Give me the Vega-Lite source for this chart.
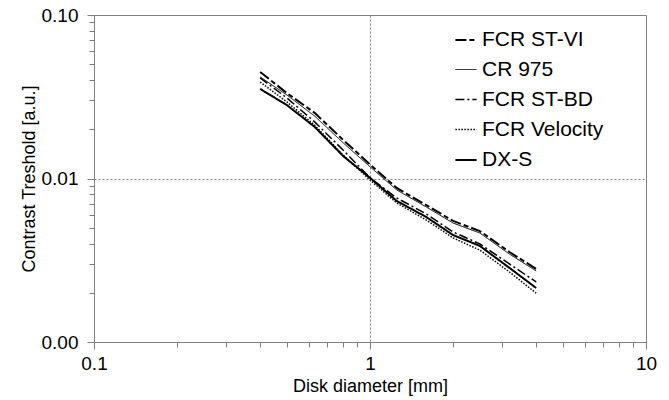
{
  "$schema": "https://vega.github.io/schema/vega-lite/v6.json",
  "width": 552,
  "height": 327,
  "autosize": "none",
  "padding": {"left": 94, "top": 15, "right": 23, "bottom": 58},
  "background": "white",
  "config": {
    "font": "Liberation Sans",
    "view": {"stroke": "#808080", "strokeWidth": 1}
  },
  "data": {
    "values": [
      {"d": 0.4, "s": "FCR ST-VI", "v": 0.0448},
      {"d": 0.5, "s": "FCR ST-VI", "v": 0.0333},
      {"d": 0.63, "s": "FCR ST-VI", "v": 0.0252},
      {"d": 0.8, "s": "FCR ST-VI", "v": 0.0172},
      {"d": 1.0, "s": "FCR ST-VI", "v": 0.0122},
      {"d": 1.25, "s": "FCR ST-VI", "v": 0.00875},
      {"d": 1.6, "s": "FCR ST-VI", "v": 0.00688},
      {"d": 2.0, "s": "FCR ST-VI", "v": 0.0055},
      {"d": 2.5, "s": "FCR ST-VI", "v": 0.00477},
      {"d": 3.2, "s": "FCR ST-VI", "v": 0.00355},
      {"d": 4.0, "s": "FCR ST-VI", "v": 0.0028},
      {"d": 0.4, "s": "CR 975", "v": 0.0418},
      {"d": 0.5, "s": "CR 975", "v": 0.0324},
      {"d": 0.63, "s": "CR 975", "v": 0.0241},
      {"d": 0.8, "s": "CR 975", "v": 0.0165},
      {"d": 1.0, "s": "CR 975", "v": 0.0118},
      {"d": 1.25, "s": "CR 975", "v": 0.00851},
      {"d": 1.6, "s": "CR 975", "v": 0.00669},
      {"d": 2.0, "s": "CR 975", "v": 0.00534},
      {"d": 2.5, "s": "CR 975", "v": 0.00464},
      {"d": 3.2, "s": "CR 975", "v": 0.00345},
      {"d": 4.0, "s": "CR 975", "v": 0.00272},
      {"d": 0.4, "s": "FCR ST-BD", "v": 0.0412},
      {"d": 0.5, "s": "FCR ST-BD", "v": 0.0311},
      {"d": 0.63, "s": "FCR ST-BD", "v": 0.0222},
      {"d": 0.8, "s": "FCR ST-BD", "v": 0.0149},
      {"d": 1.0, "s": "FCR ST-BD", "v": 0.0101},
      {"d": 1.25, "s": "FCR ST-BD", "v": 0.0076},
      {"d": 1.6, "s": "FCR ST-BD", "v": 0.00607},
      {"d": 2.0, "s": "FCR ST-BD", "v": 0.00471},
      {"d": 2.5, "s": "FCR ST-BD", "v": 0.00398},
      {"d": 3.2, "s": "FCR ST-BD", "v": 0.003},
      {"d": 4.0, "s": "FCR ST-BD", "v": 0.00233},
      {"d": 0.4, "s": "FCR Velocity", "v": 0.0389},
      {"d": 0.5, "s": "FCR Velocity", "v": 0.0294},
      {"d": 0.63, "s": "FCR Velocity", "v": 0.0212},
      {"d": 0.8, "s": "FCR Velocity", "v": 0.0139},
      {"d": 1.0, "s": "FCR Velocity", "v": 0.0098},
      {"d": 1.25, "s": "FCR Velocity", "v": 0.00708},
      {"d": 1.6, "s": "FCR Velocity", "v": 0.00557},
      {"d": 2.0, "s": "FCR Velocity", "v": 0.00433},
      {"d": 2.5, "s": "FCR Velocity", "v": 0.00365},
      {"d": 3.2, "s": "FCR Velocity", "v": 0.00268},
      {"d": 4.0, "s": "FCR Velocity", "v": 0.00199},
      {"d": 0.4, "s": "DX-S", "v": 0.0353},
      {"d": 0.5, "s": "DX-S", "v": 0.0281},
      {"d": 0.63, "s": "DX-S", "v": 0.0207},
      {"d": 0.8, "s": "DX-S", "v": 0.0137},
      {"d": 1.0, "s": "DX-S", "v": 0.0101},
      {"d": 1.25, "s": "DX-S", "v": 0.00729},
      {"d": 1.6, "s": "DX-S", "v": 0.00581},
      {"d": 2.0, "s": "DX-S", "v": 0.00451},
      {"d": 2.5, "s": "DX-S", "v": 0.00387},
      {"d": 3.2, "s": "DX-S", "v": 0.00284},
      {"d": 4.0, "s": "DX-S", "v": 0.00214}
    ]
  },
  "mark": {"type": "line", "color": "black", "strokeCap": "butt"},
  "encoding": {
    "x": {
      "field": "d",
      "type": "quantitative",
      "scale": {"type": "log", "domain": [0.1, 10], "nice": false},
      "axis": {
        "title": "Disk diameter [mm]",
        "values": [0.1,0.2,0.3,0.4,0.5,0.6,0.7,0.8,0.9,1,2,3,4,5,6,7,8,9,10],
        "labelExpr": "indexof([0.1,1,10], datum.value) >= 0 ? format(datum.value, '~g') : ''",
        "labelFontSize": 19,
        "labelColor": "black",
        "labelPadding": 5,
        "labelFlush": false,
        "labelOverlap": false,
        "titleFontSize": 18,
        "titleFontWeight": "normal",
        "titleColor": "black",
        "titlePadding": 4,
        "domainColor": "#808080",
        "tickColor": "#808080",
        "tickSize": {"condition": {"test": "indexof([0.1,1,10], datum.value) >= 0", "value": 7}, "value": 5},
        "grid": true,
        "gridColor": "#808080",
        "gridDash": [2, 2],
        "gridOpacity": {"condition": {"test": "datum.value == 1", "value": 1}, "value": 0}
      }
    },
    "y": {
      "field": "v",
      "type": "quantitative",
      "scale": {"type": "log", "domain": [0.001, 0.1], "nice": false},
      "axis": {
        "title": "Contrast Treshold [a.u.]",
        "values": [0.001,0.002,0.003,0.004,0.005,0.006,0.007,0.008,0.009,0.01,0.02,0.03,0.04,0.05,0.06,0.07,0.08,0.09,0.1],
        "labelExpr": "indexof([0.001,0.01,0.1], datum.value) >= 0 ? format(datum.value, '.2f') : ''",
        "labelFontSize": 19,
        "labelColor": "black",
        "labelPadding": 9,
        "labelFlush": false,
        "labelOverlap": false,
        "titleFontSize": 18,
        "titleFontWeight": "normal",
        "titleColor": "black",
        "titlePadding": 3,
        "domainColor": "#808080",
        "tickColor": "#808080",
        "tickSize": {"condition": {"test": "indexof([0.001,0.01,0.1], datum.value) >= 0", "value": 7}, "value": 5},
        "grid": true,
        "gridColor": "#808080",
        "gridDash": [2, 2],
        "gridOpacity": {"condition": {"test": "datum.value == 0.01", "value": 1}, "value": 0}
      }
    },
    "detail": {"field": "s"},
    "strokeDash": {
      "field": "s",
      "type": "nominal",
      "scale": {
        "domain": ["FCR ST-VI", "CR 975", "FCR ST-BD", "FCR Velocity", "DX-S"],
        "range": [[11, 3, 5, 3], [1, 0], [9, 3, 2, 3], [1.5, 1.5], [1, 0]]
      },
      "legend": {
        "title": null,
        "orient": "none",
        "legendX": 360,
        "legendY": 13,
        "labelFontSize": 21,
        "labelColor": "black",
        "labelOffset": 4,
        "symbolType": "stroke",
        "symbolSize": 450,
        "symbolStrokeColor": "black",
        "rowPadding": 8,
        "padding": 0
      }
    },
    "strokeWidth": {
      "field": "s",
      "type": "nominal",
      "scale": {
        "type": "ordinal",
        "domain": ["FCR ST-VI", "CR 975", "FCR ST-BD", "FCR Velocity", "DX-S"],
        "range": [2, 1, 1.5, 1.5, 2]
      },
      "legend": null
    }
  }
}
